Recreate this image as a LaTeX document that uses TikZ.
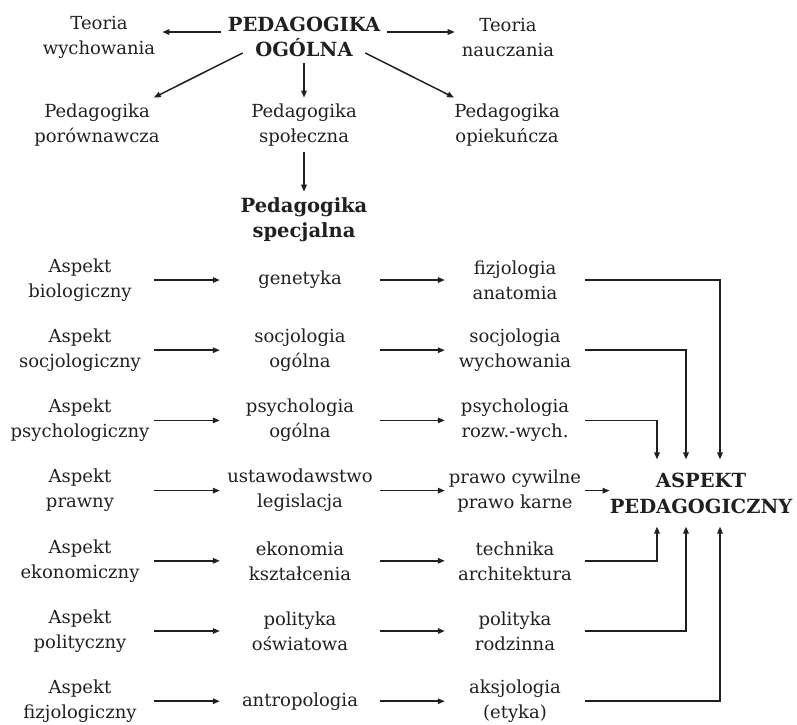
\documentclass[tikz,border=0pt]{standalone}
\usepackage{fontspec}
\setmainfont{DejaVu Serif}
\usetikzlibrary{arrows.meta, positioning, calc}
\definecolor{ink}{HTML}{231F20}

\begin{document}
\begin{tikzpicture}[x=1pt, y=-1pt, >={Triangle[length=7pt, width=5.5pt]}, line join=miter]
	\def\rowgap{70.2}
	
	\tikzset{
		txt/.style={align=center, inner sep=0pt, text=ink, font=\fontsize{18}{25}\selectfont},
		topbox/.style={txt, inner xsep=7pt, inner ysep=6pt},
		headbox/.style={topbox, font=\fontsize{19.5}{25}\selectfont\bfseries},
		colA/.style={txt, minimum width=148pt},
		colB/.style={txt, minimum width=160pt},
		colC/.style={txt, minimum width=140pt},
		link/.style={draw=ink, line width=1.5pt, ->}
	}
	
	\useasboundingbox (0,0) rectangle (797,724);
	
	% upper part
	\node[headbox] (ogolna) at (304,37) {PEDAGOGIKA\\OGÓLNA};
	\node[topbox] (teoriaW) at (99,37) {Teoria\\wychowania};
	\node[topbox] (teoriaN) at (508,37) {Teoria\\nauczania};
	\node[topbox] (porow) at (97,125) {Pedagogika\\porównawcza};
	\node[topbox] (spol) at (304,125) {Pedagogika\\społeczna};
	\node[topbox] (opiek) at (507,125) {Pedagogika\\opiekuńcza};
	\node[headbox] (spec) at (304,220) {Pedagogika\\specjalna};
	
	\draw[link] ([yshift=5pt]ogolna.west) -- ([yshift=5pt]ogolna.west -| teoriaW.east);
	\draw[link] ([yshift=5pt]ogolna.east) -- ([yshift=5pt]ogolna.east -| teoriaN.west);
	\draw[link] ($(ogolna.west)+(22,16)$) -- ($(porow.north east)+(-13,0)$);
	\draw[link] ($(ogolna.east)+(-22,16)$) -- ($(opiek.north west)+(7,0)$);
	\draw[link] (ogolna) -- (spol);
	\draw[link] (spol) -- (spec);
	
	% aspects
	\foreach \i/\ta/\tb/\tc in {
		1/{Aspekt\\biologiczny}/{genetyka}/{fizjologia\\anatomia},
		2/{Aspekt\\socjologiczny}/{socjologia\\ogólna}/{socjologia\\wychowania},
		3/{Aspekt\\psychologiczny}/{psychologia\\ogólna}/{psychologia\\rozw.-wych.},
		4/{Aspekt\\prawny}/{ustawodawstwo\\legislacja}/{prawo cywilne\\prawo karne},
		5/{Aspekt\\ekonomiczny}/{ekonomia\\kształcenia}/{technika\\architektura},
		6/{Aspekt\\polityczny}/{polityka\\oświatowa}/{polityka\\rodzinna},
		7/{Aspekt\\fizjologiczny}/{antropologia}/{aksjologia\\(etyka)}}{
		\pgfmathsetmacro{\y}{280+(\i-1)*\rowgap}
		\node[colA] (a\i) at (80,\y) {\ta};
		\node[colB] (b\i) at (300,\y) {\tb};
		\node[colC] (c\i) at (515,\y) {\tc};
		\draw[link] (a\i) -- (b\i);
		\draw[link] (b\i) -- (c\i);
	}
	
	\node[txt, font=\fontsize{19.5}{26}\selectfont\bfseries, inner ysep=13pt] (asp) at (701,493) {ASPEKT\\PEDAGOGICZNY};
	
	\draw[link] (c1.east) -| ([xshift=19pt]asp.north);
	\draw[link] (c2.east) -| ([xshift=-15pt]asp.north);
	\draw[link] (c3.east) -| ([xshift=-44pt]asp.north);
	\draw[link] (c4.east) -- (c4.east -| asp.west);
	\draw[link] (c5.east) -| ([xshift=-44pt]asp.south);
	\draw[link] (c6.east) -| ([xshift=-15pt]asp.south);
	\draw[link] (c7.east) -| ([xshift=19pt]asp.south);
	
\end{tikzpicture}
\end{document}
